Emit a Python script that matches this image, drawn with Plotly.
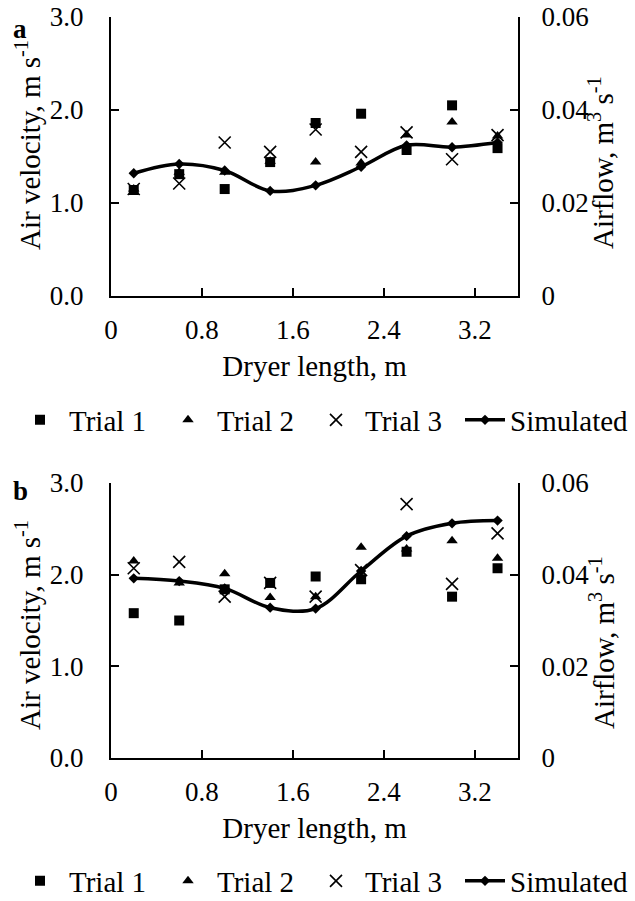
import plotly.graph_objects as go

# Distance along the dryer (m)
length_m = [0.2, 0.6, 1.0, 1.4, 1.8, 2.2, 2.6, 3.0, 3.4]

# Panel a: air velocity (m/s)
a_trial1 = [1.14, 1.31, 1.15, 1.44, 1.86, 1.96, 1.57, 2.05, 1.59]
a_trial2 = [1.15, 1.33, 1.33, 1.45, 1.44, 1.43, 1.73, 1.87, 1.72]
a_trial3 = [1.15, 1.21, 1.65, 1.55, 1.79, 1.55, 1.76, 1.47, 1.73]
a_simulated = [1.32, 1.42, 1.35, 1.13, 1.19, 1.39, 1.62, 1.60, 1.65]

# Panel b: air velocity (m/s)
b_trial1 = [1.58, 1.50, 1.84, 1.91, 1.98, 1.95, 2.25, 1.76, 2.07]
b_trial2 = [2.15, 1.91, 2.01, 1.75, 1.76, 2.30, 2.28, 2.37, 2.18]
b_trial3 = [2.07, 2.14, 1.76, 1.91, 1.76, 2.05, 2.77, 1.90, 2.45]
b_simulated = [1.96, 1.93, 1.85, 1.64, 1.63, 2.04, 2.42, 2.56, 2.59]

x_ticks = [0, 0.8, 1.6, 2.4, 3.2]
x_ticktext = ["0", "0.8", "1.6", "2.4", "3.2"]
v_ticks = [0, 1, 2, 3]
v_ticktext = ["0.0", "1.0", "2.0", "3.0"]
q_ticks = [0, 0.02, 0.04, 0.06]
q_ticktext = ["0", "0.02", "0.04", "0.06"]

FONT = "Liberation Serif"
TICK_SIZE = 27
TITLE_SIZE = 29
LEGEND_SIZE = 29

fig = go.Figure()

# (x axis, velocity axis, airflow axis, legend for trials, legend for model, data...)
panels = [
    ("x", "y", "y3", "legend", "legend3", a_trial1, a_trial2, a_trial3, a_simulated),
    ("x2", "y2", "y4", "legend2", "legend4", b_trial1, b_trial2, b_trial3, b_simulated),
]
for xa, ya, ya_flow, leg, leg_sim, t1, t2, t3, sim in panels:
    fig.add_trace(go.Scatter(
        x=length_m, y=t1, mode="markers", name="Trial 1", xaxis=xa, yaxis=ya,
        legend=leg, marker=dict(symbol="square", size=10, color="black"),
    ))
    fig.add_trace(go.Scatter(
        x=length_m, y=t2, mode="markers", name="Trial 2", xaxis=xa, yaxis=ya,
        legend=leg, marker=dict(symbol="triangle-up", size=10, color="black"),
    ))
    fig.add_trace(go.Scatter(
        x=length_m, y=t3, mode="markers", name="Trial 3", xaxis=xa, yaxis=ya,
        legend=leg,
        marker=dict(symbol="x-thin-open", size=12, color="black",
                    line=dict(width=1.6, color="black")),
    ))
    fig.add_trace(go.Scatter(
        x=length_m, y=sim, mode="lines+markers", name="Simulated", xaxis=xa, yaxis=ya,
        legend=leg_sim, line=dict(shape="spline", smoothing=1.0, width=3.5, color="black"),
        marker=dict(symbol="diamond", size=8, color="black"),
    ))
    # empty trace so the airflow (right) axis subplot is created
    fig.add_trace(go.Scatter(
        x=[], y=[], xaxis=xa, yaxis=ya_flow, showlegend=False, hoverinfo="skip",
    ))

W, H = 635, 901
x_dom = [111 / W, 518 / W]
a_dom = [1 - 296 / H, 1 - 17 / H]
b_dom = [1 - 758 / H, 1 - 483 / H]

common_axis = dict(
    showline=True, linecolor="black", linewidth=2,
    ticks="inside", ticklen=8, tickwidth=1.5, tickcolor="black",
    showgrid=False, zeroline=False, automargin=False,
    tickfont=dict(family=FONT, size=TICK_SIZE, color="black"),
    title_font=dict(family=FONT, size=TITLE_SIZE, color="black"),
)

def x_axis(anchor):
    return dict(
        common_axis, domain=x_dom, anchor=anchor, range=[0, 3.58],
        tickmode="array", tickvals=x_ticks, ticktext=x_ticktext,
        ticklabelstandoff=9,
        title=dict(text="Dryer length, m", standoff=11),
    )

def v_axis(anchor, dom):
    return dict(
        common_axis, domain=dom, anchor=anchor, range=[0, 3.0],
        tickmode="array", tickvals=v_ticks, ticktext=v_ticktext,
        ticklabelstandoff=20,
    )

def q_axis(anchor, over):
    return dict(
        common_axis, anchor=anchor, overlaying=over, side="right", range=[0, 0.06],
        tickmode="array", tickvals=q_ticks, ticktext=q_ticktext,
        ticklabelstandoff=16,
    )

legend_common = dict(
    orientation="h", xanchor="left", yanchor="middle",
    font=dict(family=FONT, size=LEGEND_SIZE, color="black"),
    bgcolor="rgba(0,0,0,0)", tracegroupgap=0,
)
trial_legend = dict(legend_common, x=11 / W, itemwidth=48,
                    entrywidth=85, entrywidthmode="pixels")
sim_legend = dict(legend_common, x=460 / W, itemwidth=40)

def vertical_title(text, x_px, y_px):
    return dict(text=text, x=x_px / W, y=1 - y_px / H, xref="paper", yref="paper",
                xanchor="center", yanchor="middle", textangle=-90, showarrow=False,
                font=dict(family=FONT, size=TITLE_SIZE, color="black"))

def panel_label(text, y_px):
    return dict(text=f"<b>{text}</b>", x=20 / W, y=1 - y_px / H, xref="paper",
                yref="paper", xanchor="center", yanchor="middle", showarrow=False,
                font=dict(family=FONT, size=27, color="black"))

velocity_title = "Air velocity, m s<sup>-1</sup>"
airflow_title = "Airflow, m<sup>3</sup> s<sup>-1</sup>"

fig.update_layout(
    width=W, height=H, margin=dict(l=0, r=0, t=0, b=0, autoexpand=False),
    paper_bgcolor="white", plot_bgcolor="white",
    font=dict(family=FONT, color="black"),
    xaxis=x_axis("y"), yaxis=v_axis("x", a_dom),
    xaxis2=x_axis("y2"), yaxis2=v_axis("x2", b_dom),
    yaxis3=q_axis("x", "y"), yaxis4=q_axis("x2", "y2"),
    legend=dict(trial_legend, y=1 - 420 / H),
    legend2=dict(trial_legend, y=1 - 881 / H),
    legend3=dict(sim_legend, y=1 - 420 / H),
    legend4=dict(sim_legend, y=1 - 881 / H),
    annotations=[
        panel_label("a", 29),
        panel_label("b", 491),
        vertical_title(velocity_title, 28, 145),
        vertical_title(velocity_title, 28, 625),
        vertical_title(airflow_title, 601, 163),
        vertical_title(airflow_title, 602, 643),
    ],
)

fig.write_html("out.html")
